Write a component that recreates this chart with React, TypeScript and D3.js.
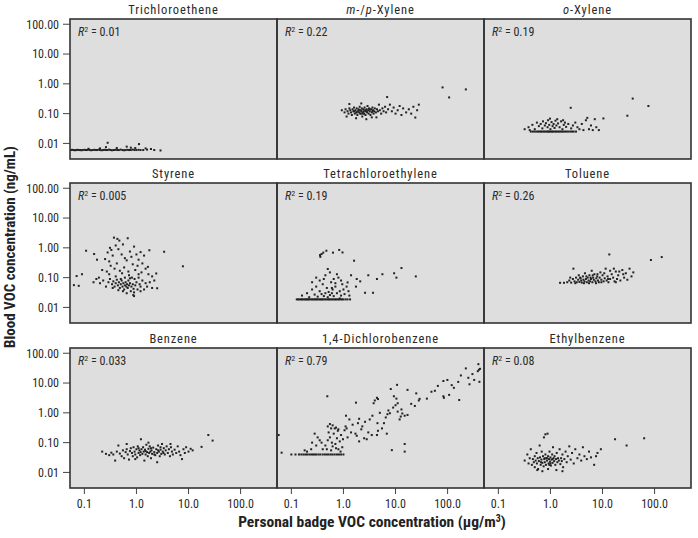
import React, { useRef, useEffect } from "react";
import * as d3 from "d3";

// panel titles, *x* marks italic parts
const panelTitles = [
  "Trichloroethene", "*m*-/*p*-Xylene", "*o*-Xylene",
  "Styrene", "Tetrachloroethylene", "Toluene",
  "Benzene", "1,4-Dichlorobenzene", "Ethylbenzene",
];
const r2Values = ["0.01", "0.22", "0.19", "0.005", "0.19", "0.26", "0.033", "0.79", "0.08"];

const xTicks = [0.1, 1, 10, 100];
const xTickLabels = ["0.1", "1.0", "10.0", "100.0"];
const yTicks = [0.01, 0.1, 1, 10, 100];
const yTickLabels = ["0.01", "0.10", "1.00", "10.00", "100.00"];

const xTitle = "Personal badge VOC concentration (\u03bcg/m";
const yTitle = "Blood VOC concentration (ng/mL)";

// [badge ug/m3, blood ng/mL]
const trichloroethene: [number, number][] = [
  [0.055,0.006],[0.058,0.0061],[0.062,0.006],[0.066,0.0059],[0.07,0.006],[0.074,0.0061],[0.078,0.006],[0.083,0.006],
  [0.088,0.0059],[0.093,0.006],[0.1,0.0061],[0.106,0.006],[0.112,0.006],[0.12,0.0062],[0.127,0.006],[0.135,0.0059],
  [0.145,0.006],[0.155,0.0061],[0.165,0.006],[0.175,0.006],[0.19,0.0062],[0.2,0.006],[0.215,0.0059],[0.23,0.006],
  [0.245,0.0061],[0.26,0.006],[0.28,0.006],[0.3,0.0062],[0.32,0.006],[0.34,0.0059],[0.37,0.006],[0.4,0.0061],
  [0.43,0.006],[0.46,0.006],[0.5,0.0062],[0.54,0.006],[0.58,0.0059],[0.62,0.006],[0.67,0.0061],[0.72,0.006],
  [0.78,0.006],[0.85,0.0062],[0.92,0.006],[1.0,0.006],[1.1,0.0061],[1.2,0.006],[1.35,0.006],[1.6,0.0062],
  [1.9,0.0065],[2.2,0.006],[2.9,0.0058],[0.28,0.0105],[0.26,0.0075],[0.42,0.007],[0.65,0.0078],[0.78,0.0072],
  [1.12,0.0095],[0.95,0.007],[1.5,0.0068],[0.2,0.0068],[0.12,0.0066],
];

const mpXylene: [number, number][] = [
  [0.93,0.13],[1.05,0.11],[1.1,0.14],[1.2,0.12],[1.25,0.1],[1.3,0.15],[1.35,0.13],[1.4,0.11],[1.45,0.09],[1.5,0.14],
  [1.55,0.12],[1.6,0.16],[1.65,0.1],[1.7,0.13],[1.75,0.11],[1.8,0.15],[1.85,0.09],[1.9,0.12],[1.95,0.14],[2.0,0.11],
  [2.05,0.17],[2.1,0.1],[2.15,0.13],[2.2,0.12],[2.25,0.15],[2.3,0.08],[2.35,0.11],[2.4,0.14],[2.45,0.12],[2.5,0.1],
  [2.55,0.16],[2.6,0.13],[2.65,0.09],[2.7,0.12],[2.8,0.14],[2.85,0.11],[2.9,0.18],[3.0,0.13],[3.05,0.1],[3.1,0.15],
  [3.2,0.12],[3.3,0.09],[3.4,0.14],[3.5,0.11],[3.6,0.16],[3.7,0.13],[3.8,0.1],[3.9,0.12],[4.0,0.15],[4.2,0.11],
  [4.4,0.14],[4.6,0.12],[4.8,0.2],[5.0,0.13],[5.3,0.1],[5.6,0.15],[5.9,0.12],[6.3,0.17],[6.9,0.36],[6.6,0.11],
  [7.2,0.14],[7.8,0.2],[8.5,0.12],[9.2,0.16],[10,0.1],[11,0.13],[12,0.18],[13,0.09],[14,0.15],[16,0.11],
  [18,0.14],[20,0.1],[22,0.17],[24,0.074],[26,0.13],[28,0.2],[1.15,0.08],[1.75,0.07],[2.75,0.065],[3.5,0.075],
  [1.3,0.21],[2.2,0.22],[4.3,0.075],[80,0.76],[107,0.35],[224,0.65],[1.6,0.12],[2.0,0.13],[2.4,0.1],[2.8,0.12],
  [3.2,0.14],[2.2,0.1],[1.8,0.11],[3.6,0.12],
];

const oXylene: [number, number][] = [
  [0.42,0.025],[0.46,0.025],[0.5,0.025],[0.54,0.025],[0.58,0.025],[0.62,0.025],[0.66,0.025],[0.7,0.025],[0.75,0.025],
  [0.8,0.025],[0.85,0.025],[0.9,0.025],[0.95,0.025],[1.0,0.025],[1.06,0.025],[1.12,0.025],[1.2,0.025],[1.28,0.025],
  [1.36,0.025],[1.45,0.025],[1.55,0.025],[1.65,0.025],[1.75,0.025],[1.9,0.025],[2.05,0.025],[2.2,0.025],[2.4,0.025],
  [2.6,0.025],[2.8,0.025],[3.1,0.025],
  [0.32,0.03],[0.38,0.035],[0.45,0.042],[0.5,0.03],[0.55,0.05],[0.6,0.038],[0.65,0.045],[0.7,0.032],[0.72,0.055],
  [0.78,0.04],[0.82,0.048],[0.88,0.035],[0.9,0.06],[0.95,0.042],[1.0,0.03],[1.05,0.052],[1.1,0.038],[1.15,0.045],
  [1.2,0.033],[1.25,0.058],[1.3,0.04],[1.4,0.047],[1.5,0.035],[1.6,0.055],[1.7,0.03],[1.8,0.042],[1.9,0.05],
  [2.0,0.036],[2.2,0.045],[2.45,0.157],[2.5,0.032],[2.7,0.04],[3.0,0.05],[3.3,0.035],[3.6,0.03],[4.0,0.045],
  [4.3,0.028],[4.8,0.06],[5.1,0.072],[5.5,0.03],[6.0,0.04],[6.5,0.028],[7.1,0.065],[7.6,0.035],[8.5,0.028],
  [10.4,0.069],[30,0.085],[38,0.32],[76,0.18],[0.4,0.028],[1.35,0.065],[0.98,0.068],[1.75,0.06],
];

const styrene: [number, number][] = [
  [0.37,2.2],[0.43,2.0],[0.47,1.75],[0.68,2.1],[0.108,0.8],[0.154,0.62],[0.175,0.4],[0.31,1.0],[0.33,0.85],
  [1.77,0.83],[3.4,0.74],[7.8,0.24],[0.071,0.113],[0.09,0.13],[0.063,0.056],[0.078,0.053],[2.5,0.044],[2.4,0.138],
  [1.66,0.23],[0.87,0.026],[0.9,0.024],
  [0.28,0.7],[0.35,0.55],[0.4,1.2],[0.45,0.9],[0.52,0.6],[0.55,1.3],[0.6,0.45],[0.65,0.38],[0.75,0.75],[0.8,0.5],
  [0.9,1.1],[1.0,0.6],[1.1,0.4],[1.2,0.72],[1.3,0.3],[1.4,0.55],[0.3,0.35],[0.25,0.42],[0.22,0.18],[0.27,0.16],
  [0.32,0.25],[0.38,0.2],[0.42,0.3],[0.48,0.17],[0.58,0.22],[0.7,0.16],[0.85,0.28],[0.95,0.18],[1.05,0.25],
  [1.25,0.15],[1.5,0.2],[1.7,0.13],[2.0,0.11],[2.2,0.08],[0.2,0.065],[0.23,0.08],[0.26,0.05],[0.29,0.07],
  [0.31,0.09],[0.34,0.06],[0.36,0.075],[0.38,0.05],[0.4,0.065],[0.42,0.085],[0.44,0.055],[0.46,0.07],[0.48,0.045],
  [0.5,0.06],[0.52,0.08],[0.54,0.05],[0.56,0.065],[0.58,0.04],[0.6,0.055],[0.62,0.07],[0.64,0.05],[0.66,0.06],
  [0.68,0.045],[0.7,0.08],[0.72,0.055],[0.75,0.065],[0.78,0.035],[0.8,0.05],[0.82,0.1],[0.85,0.06],[0.88,0.042],
  [0.92,0.09],[0.95,0.055],[1.0,0.07],[1.05,0.04],[1.1,0.1],[1.15,0.06],[1.2,0.05],[1.3,0.08],[1.4,0.04],
  [1.5,0.065],[1.6,0.05],[1.8,0.07],[2.0,0.045],[0.15,0.07],[0.17,0.09],[0.19,0.1],[0.55,0.035],[0.65,0.03],
  [0.45,0.038],[0.35,0.045],[0.9,0.032],[1.2,0.035],[0.5,0.09],[0.6,0.1],[0.72,0.12],[0.4,0.11],[0.3,0.13],
  [0.53,0.14],[0.75,0.095],[1.1,0.13],
];

const tetrachloroethylene: [number, number][] = [
  [0.127,0.0186],[0.135,0.0186],[0.143,0.0186],[0.152,0.0186],[0.16,0.0186],[0.17,0.0186],[0.18,0.0186],[0.19,0.0186],
  [0.2,0.0186],[0.21,0.0186],[0.22,0.0186],[0.235,0.0186],[0.25,0.0186],[0.265,0.0186],[0.28,0.0186],[0.295,0.0186],
  [0.31,0.0186],[0.33,0.0186],[0.35,0.0186],[0.37,0.0186],[0.39,0.0186],[0.41,0.0186],[0.44,0.0186],[0.47,0.0186],
  [0.5,0.0186],[0.53,0.0186],[0.56,0.0186],[0.6,0.0186],[0.64,0.0186],[0.68,0.0186],[0.72,0.0186],[0.77,0.0186],
  [0.82,0.0186],[0.88,0.0186],[0.94,0.0186],[1.0,0.0186],[1.1,0.0186],[1.2,0.0186],[1.34,0.0186],
  [0.16,0.025],[0.2,0.03],[0.22,0.022],[0.25,0.04],[0.28,0.027],[0.3,0.05],[0.32,0.023],[0.35,0.035],[0.38,0.028],
  [0.4,0.06],[0.42,0.024],[0.45,0.03],[0.48,0.045],[0.5,0.022],[0.52,0.033],[0.55,0.026],[0.58,0.07],[0.6,0.03],
  [0.62,0.04],[0.65,0.024],[0.7,0.05],[0.75,0.03],[0.8,0.1],[0.85,0.035],[0.9,0.025],[0.95,0.06],[1.0,0.04],
  [1.05,0.028],[1.15,0.05],[1.25,0.035],[0.35,0.08],[0.45,0.12],[0.55,0.15],[0.5,0.195],[0.65,0.09],[0.75,0.13],
  [0.3,0.1],[0.25,0.07],[0.42,0.09],[0.9,0.08],[1.2,0.069],[1.74,0.05],[2.1,0.075],[2.6,0.031],[3.7,0.031],
  [3.0,0.12],[4.4,0.09],[5.6,0.13],[9.4,0.14],[10.4,0.1],[13,0.21],[24.5,0.11],[1.6,0.37],[0.355,0.57],
  [0.38,0.62],[0.41,0.69],[0.47,0.8],[0.63,0.69],[0.83,0.85],[0.96,0.7],[0.36,0.5],[1.4,0.12],[1.8,0.09],
  [0.7,0.065],[0.6,0.045],[1.3,0.025],[0.85,0.02],
];

const toluene: [number, number][] = [
  [1.53,0.067],[1.82,0.067],[2.1,0.07],[2.3,0.08],[2.5,0.068],[2.76,0.2],[2.7,0.09],[2.9,0.075],[3.1,0.1],[3.2,0.07],
  [3.4,0.085],[3.5,0.12],[3.6,0.072],[3.8,0.095],[3.9,0.08],[4.0,0.068],[4.2,0.11],[4.3,0.085],[4.5,0.075],[4.6,0.14],
  [4.8,0.09],[5.0,0.07],[5.2,0.1],[5.4,0.08],[5.6,0.12],[5.8,0.075],[6.0,0.09],[6.2,0.17],[6.4,0.07],[6.6,0.1],
  [6.8,0.085],[7.0,0.13],[7.3,0.075],[7.6,0.095],[7.9,0.11],[8.2,0.08],[8.5,0.07],[8.8,0.1],[9.1,0.15],[9.5,0.085],
  [10,0.12],[10.5,0.075],[11,0.095],[11.5,0.2],[12,0.08],[12.5,0.11],[13,0.07],[13.5,0.6],[14,0.09],[15,0.13],
  [16,0.1],[17,0.075],[18,0.16],[19,0.09],[20,0.12],[22,0.08],[24,0.18],[26,0.1],[28,0.14],[30,0.085],
  [33,0.2],[36,0.11],[39,0.15],[85,0.39],[137,0.49],[4.4,0.065],[5.5,0.065],[7.5,0.065],[9.5,0.07],[3.0,0.065],
  [6.5,0.12],[8.0,0.13],[10.8,0.14],[12.8,0.09],[4.9,0.11],[3.7,0.1],[5.9,0.1],[2.4,0.1],[14,0.17],[16.5,0.2],
  [21,0.16],[25,0.13],[18,0.07],
];

const benzene: [number, number][] = [
  [0.22,0.05],[0.26,0.042],[0.3,0.038],[0.33,0.046],[0.36,0.04],[0.39,0.025],[0.42,0.05],[0.45,0.08],[0.48,0.043],
  [0.52,0.035],[0.55,0.055],[0.58,0.03],[0.62,0.048],[0.65,0.06],[0.68,0.04],[0.72,0.027],[0.75,0.052],[0.78,0.065],
  [0.82,0.045],[0.85,0.035],[0.88,0.07],[0.92,0.05],[0.95,0.04],[1.0,0.06],[1.03,0.032],[1.06,0.075],[1.1,0.045],
  [1.14,0.055],[1.18,0.038],[1.22,0.13],[1.25,0.06],[1.3,0.042],[1.34,0.07],[1.38,0.05],[1.42,0.025],[1.46,0.058],
  [1.5,0.04],[1.55,0.085],[1.6,0.048],[1.65,0.035],[1.7,0.062],[1.75,0.045],[1.8,0.075],[1.85,0.05],[1.9,0.03],
  [1.95,0.055],[2.0,0.042],[2.1,0.068],[2.2,0.048],[2.3,0.038],[2.4,0.06],[2.5,0.045],[2.6,0.08],[2.7,0.05],
  [2.8,0.035],[2.9,0.058],[3.0,0.042],[3.1,0.09],[3.2,0.05],[3.35,0.065],[3.5,0.04],[3.65,0.055],[3.8,0.075],
  [4.0,0.045],[4.2,0.06],[4.4,0.035],[4.6,0.07],[4.8,0.05],[5.0,0.04],[5.4,0.058],[5.8,0.045],[6.2,0.075],
  [6.6,0.05],[7.0,0.038],[7.5,0.028],[8.0,0.06],[8.5,0.045],[9.0,0.07],[10,0.05],[11,0.062],[12,0.055],
  [17.8,0.072],[24,0.18],[29,0.117],[1.2,0.048],[1.5,0.052],[2.2,0.04],[2.6,0.055],[1.9,0.065],[3.3,0.045],
  [1.1,0.065],[2.9,0.07],[0.95,0.028],[2.5,0.022],[4.5,0.09],[1.7,0.1],[0.65,0.09],
];

const dichlorobenzene: [number, number][] = [
  [0.1,0.04],[0.12,0.04],[0.14,0.04],[0.155,0.04],[0.17,0.04],[0.185,0.04],[0.2,0.04],[0.22,0.04],[0.24,0.04],
  [0.26,0.04],[0.28,0.04],[0.3,0.04],[0.33,0.04],[0.36,0.04],[0.4,0.04],[0.44,0.04],[0.48,0.04],[0.52,0.04],
  [0.57,0.04],[0.62,0.04],[0.68,0.04],[0.75,0.04],[0.82,0.04],[0.9,0.04],[1.0,0.04],
  [0.057,0.18],[0.065,0.046],
  [0.49,3.6],[1.74,2.2],[1.12,0.8],[2.0,0.63],[4.4,3.2],[4.0,2.6],[4.6,2.9],[3.8,2.1],[8.1,6.3],[10.7,8.7],
  [17,5.9],[9.3,3.6],[10.4,3.0],[11,2.1],[29,2.95],[28,2.6],[23.5,1.7],[49,5.1],[57,5.5],[83,11.7],[99,12.7],
  [160,10.9],[132,6.9],[224,31],[390,43],[400,28],[380,25],[420,30],[324,12.7],[263,9.1],[408,11],[83,3.6],
  [107,4.0],[85,3.2],[167,2.7],[8.5,0.056],[15,0.09],[15,0.05],[12.6,0.75],[13.5,0.95],[11,1.1],[12,0.6],
  [15,0.8],[17,0.85],[7.8,0.97],[7,0.9],[7.3,1.2],[6,0.45],[5.5,0.3],[6.8,0.2],[4.5,0.45],[4.6,0.25],[4.4,0.18],
  [3.5,0.18],[3.0,0.22],[2.5,0.14],[2.0,0.11],[2.8,0.13],[1.7,0.2],[1.8,0.17],[1.1,0.35],[1.15,0.3],[1.05,0.26],
  [0.45,0.08],[0.5,0.12],[0.55,0.15],[0.6,0.1],[0.65,0.2],[0.7,0.09],[0.75,0.14],[0.8,0.06],[0.85,0.11],
  [0.9,0.18],[0.95,0.07],[0.48,0.06],[0.52,0.22],[0.58,0.055],[0.62,0.075],[0.68,0.3],[0.72,0.065],[0.78,0.25],
  [0.88,0.05],[0.98,0.13],[0.25,0.1],[0.28,0.2],[0.3,0.08],[0.32,0.15],[0.35,0.12],[0.24,0.06],[0.2,0.05],
  [0.18,0.055],[0.5,0.35],[0.55,0.42],[0.58,0.3],[0.62,0.38],[0.72,0.32],[0.8,0.28],[1.3,0.6],[1.5,0.4],
  [2.3,0.35],[2.6,0.5],[3.2,0.6],[3.6,0.8],[5.0,1.0],[6.5,0.7],[9.0,1.5],[10,1.8],[20,2.0],[13,1.3],[25,4.5],
  [40,3.0],[65,8],[180,18],[300,20],[250,15],[120,8.5],[1.2,0.15],[1.4,0.22],[0.4,0.06],[0.38,0.1],[2.2,0.28],
  [1.9,0.45],
];

const ethylbenzene: [number, number][] = [
  [0.32,0.025],[0.36,0.04],[0.38,0.02],[0.4,0.03],[0.42,0.06],[0.44,0.018],[0.46,0.028],[0.48,0.022],[0.5,0.035],
  [0.5,0.015],[0.52,0.025],[0.54,0.045],[0.55,0.02],[0.57,0.03],[0.58,0.013],[0.6,0.024],[0.62,0.08],[0.63,0.032],
  [0.65,0.018],[0.67,0.027],[0.68,0.05],[0.7,0.021],[0.72,0.035],[0.74,0.016],[0.75,0.15],[0.76,0.028],[0.78,0.022],
  [0.8,0.04],[0.8,0.19],[0.82,0.018],[0.84,0.03],[0.86,0.025],[0.88,0.2],[0.9,0.035],[0.92,0.02],[0.94,0.028],
  [0.96,0.05],[0.98,0.023],[1.0,0.032],[1.02,0.017],[1.05,0.027],[1.08,0.04],[1.1,0.021],[1.12,0.07],[1.15,0.03],
  [1.18,0.024],[1.2,0.035],[1.24,0.018],[1.28,0.028],[1.32,0.045],[1.36,0.022],[1.4,0.03],[1.45,0.025],[1.5,0.06],
  [1.55,0.019],[1.6,0.03],[1.65,0.024],[1.7,0.04],[1.75,0.015],[1.85,0.028],[1.95,0.05],[2.05,0.022],[2.15,0.035],
  [2.3,0.075],[2.45,0.027],[2.6,0.045],[2.8,0.02],[3.0,0.06],[3.3,0.03],[3.6,0.04],[3.9,0.025],[4.2,0.07],
  [4.5,0.035],[5.0,0.028],[5.5,0.05],[6.0,0.032],[6.9,0.018],[7.5,0.035],[8.0,0.045],[9.3,0.06],[17.4,0.13],
  [29,0.08],[63,0.14],[0.56,0.012],[0.7,0.011],[0.9,0.013],[1.3,0.012],[1.7,0.011],[1.0,0.02],[0.85,0.03],
  [0.95,0.018],[1.1,0.028],[0.66,0.022],[0.78,0.03],
];

const panelData = [
  trichloroethene, mpXylene, oXylene,
  styrene, tetrachloroethylene, toluene,
  benzene, dichlorobenzene, ethylbenzene,
];

const FONT = "'Liberation Sans Narrow', 'Roboto Condensed', 'Arial Narrow', 'Liberation Sans', sans-serif";

const App = () => {
  const svgRef = useRef<SVGSVGElement | null>(null);

  useEffect(() => {
    const svg = d3.select(svgRef.current);
    svg.selectAll("*").remove();

    const panelW = 207;
    const panelH = 140;
    const left = 70;
    const rowTops = [19, 183, 348];

    const x = d3.scaleLog().domain([0.053, 500]).range([0, panelW]);
    const y = d3.scaleLog().domain([0.003, 150]).range([panelH, 0]);

    svg.append("rect").attr("width", 698).attr("height", 538).attr("fill", "#fff");

    const defs = svg.append("defs");

    panelData.forEach((pts, i) => {
      const col = i % 3;
      const row = Math.floor(i / 3);
      const gx = left + col * panelW;
      const gy = rowTops[row];
      const g = svg.append("g").attr("transform", `translate(${gx},${gy})`);

      defs.append("clipPath").attr("id", `clip${i}`)
        .append("rect").attr("width", panelW).attr("height", panelH);

      g.append("rect")
        .attr("width", panelW)
        .attr("height", panelH)
        .attr("fill", "#dedede");

      g.append("g")
        .attr("clip-path", `url(#clip${i})`)
        .selectAll("rect")
        .data(pts)
        .join("rect")
        .attr("x", d => x(d[0]) - 1)
        .attr("y", d => y(d[1]) - 1)
        .attr("width", 2)
        .attr("height", 2)
        .attr("fill", "#222");

      // title
      const title = svg.append("text")
        .attr("x", gx + panelW / 2)
        .attr("y", gy - 5)
        .attr("text-anchor", "middle")
        .style("font-family", FONT)
        .style("font-size", "12.5px")
        .style("letter-spacing", "0.9px")
        .attr("fill", "#2a2a2a");
      panelTitles[i].split("*").forEach((part, k) => {
        if (!part) return;
        title.append("tspan")
          .style("font-style", k % 2 === 1 ? "italic" : "normal")
          .text(part);
      });

      // R2 label
      const r2 = g.append("text")
        .attr("x", 8)
        .attr("y", 17)
        .style("font-family", FONT)
        .style("font-size", "12px")
        .attr("fill", "#2a2a2a");
      r2.append("tspan").style("font-style", "italic").text("R");
      r2.append("tspan").attr("dy", -4).style("font-size", "8px").text("2");
      r2.append("tspan").attr("dy", 4).text(` = ${r2Values[i]}`);

      // y axis on first column
      if (col === 0) {
        yTicks.forEach((t, k) => {
          g.append("line")
            .attr("x1", -7).attr("x2", 0)
            .attr("y1", y(t)).attr("y2", y(t))
            .attr("stroke", "#444").attr("stroke-width", 1);
          g.append("text")
            .attr("x", -11)
            .attr("y", y(t))
            .attr("dy", "0.36em")
            .attr("text-anchor", "end")
            .style("font-family", FONT)
            .style("font-size", "12px")
            .attr("fill", "#2a2a2a")
            .text(yTickLabels[k]);
        });
      }

      // x axis on bottom row
      if (row === 2) {
        xTicks.forEach((t, k) => {
          g.append("line")
            .attr("x1", x(t)).attr("x2", x(t))
            .attr("y1", panelH).attr("y2", panelH + 6)
            .attr("stroke", "#444").attr("stroke-width", 1);
          g.append("text")
            .attr("x", x(t))
            .attr("y", panelH + 20)
            .attr("text-anchor", "middle")
            .style("font-family", FONT)
            .style("font-size", "12px")
            .attr("fill", "#2a2a2a")
            .text(xTickLabels[k]);
        });
      }
    });

    // panel borders on top so shared edges stay crisp
    panelData.forEach((_, i) => {
      const col = i % 3;
      const row = Math.floor(i / 3);
      svg.append("rect")
        .attr("x", left + col * panelW)
        .attr("y", rowTops[row])
        .attr("width", panelW)
        .attr("height", panelH)
        .attr("fill", "none")
        .attr("stroke", "#333")
        .attr("stroke-width", 1.6);
    });

    // axis titles
    const xt = svg.append("text")
      .attr("x", 372)
      .attr("y", 527)
      .attr("text-anchor", "middle")
      .style("font-family", FONT)
      .style("font-size", "15.5px")
      .style("font-weight", "bold")
      .attr("fill", "#222");
    xt.append("tspan").text(xTitle);
    xt.append("tspan").attr("dy", -5).style("font-size", "10px").text("3");
    xt.append("tspan").attr("dy", 5).text(")");

    svg.append("text")
      .attr("transform", "translate(15,247) rotate(-90)")
      .attr("text-anchor", "middle")
      .style("font-family", FONT)
      .style("font-size", "15px")
      .style("font-weight", "bold")
      .attr("fill", "#222")
      .text(yTitle);
  }, []);

  return (
    <svg
      ref={svgRef}
      width={698}
      height={538}
      style={{ position: "absolute", left: 0, top: 0, display: "block" }}
    />
  );
};

export default App;
